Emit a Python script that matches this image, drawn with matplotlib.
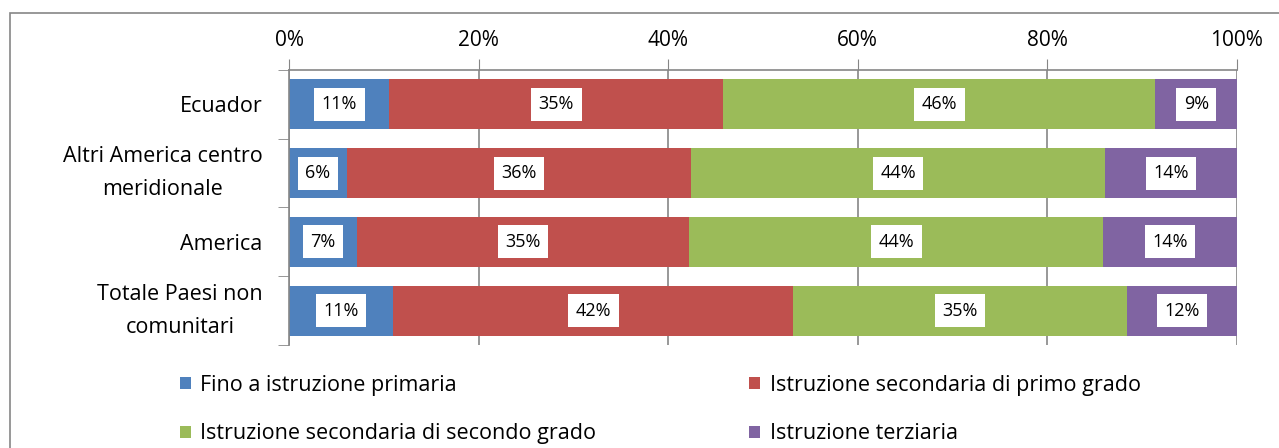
import matplotlib
matplotlib.use("Agg")
import matplotlib.pyplot as plt
from matplotlib.patches import Rectangle, Patch
import numpy as np

plt.rcParams['font.family'] = ['Open Sans', 'DejaVu Sans']

categories = ["Ecuador", "Altri America centro\nmeridionale", "America",
              "Totale Paesi non\ncomunitari"]
series_names = ["Fino a istruzione primaria",
                "Istruzione secondaria di primo grado",
                "Istruzione secondaria di secondo grado",
                "Istruzione terziaria"]
primaria = [10.6, 6.1, 7.2, 11.0]
sec_primo = [35.2, 36.3, 35.0, 42.2]
sec_secondo = [45.6, 43.7, 43.7, 35.2]
terziaria = [8.6, 13.9, 14.1, 11.6]
colors = ["#4F81BD", "#C0504D", "#9BBB59", "#8064A2"]
xticks = [0, 20, 40, 60, 80, 100]
xtick_labels = ["0%", "20%", "40%", "60%", "80%", "100%"]

W, H = 1279, 448
fig = plt.figure(figsize=(W / 100, H / 100), dpi=100)
# outer chart frame
fig.patches.append(Rectangle((10 / W, -0.05), 1.1, (H - 13) / H + 0.05,
                             transform=fig.transFigure, fill=False,
                             edgecolor="#868686", linewidth=1.2))

ax = fig.add_axes([289 / W, 1 - 345 / H, (1237 - 289) / W, (345 - 70) / H])
y = np.arange(len(categories))
series = [primaria, sec_primo, sec_secondo, terziaria]
left = np.zeros(len(categories))
for vals, name, col in zip(series, series_names, colors):
    vals = np.array(vals)
    ax.barh(y, vals, left=left, height=0.73, color=col, label=name, zorder=2)
    for yi, (l, v) in enumerate(zip(left, vals)):
        ax.text(l + v / 2, yi, f"{int(round(v))}%", ha="center", va="center",
                fontsize=13, color="black", zorder=3,
                bbox=dict(boxstyle="square,pad=0.42", facecolor="white",
                          edgecolor="none"))
    left += vals

ax.set_xlim(0, 100)
ax.set_ylim(3.5, -0.5)
ax.xaxis.tick_top()
ax.set_xticks(xticks)
ax.set_xticklabels(xtick_labels, fontsize=15)
ax.tick_params(axis="x", direction="out", length=8, color="#868686",
               pad=6, labelcolor="black")
ax.grid(axis="x", color="#868686", linewidth=1.2, zorder=0)
ax.set_axisbelow(True)

ax.set_yticks(y)
ax.set_yticklabels(categories, fontsize=15.5)
for t in ax.get_yticklabels():
    t.set_multialignment("center")
    t.set_linespacing(1.75)
    if "\n" in t.get_text():
        t.set_verticalalignment("center")
ax.set_yticks(np.arange(-0.5, 4.0, 1.0), minor=True)
ax.tick_params(axis="y", which="major", length=0, pad=19)
ax.tick_params(axis="y", which="minor", length=8, color="#868686",
               direction="out")

for s in ["bottom", "right"]:
    ax.spines[s].set_visible(False)
for s in ["top", "left"]:
    ax.spines[s].set_color("#868686")
    ax.spines[s].set_linewidth(1.2)

handles = [Patch(facecolor=c, edgecolor="none") for c in colors]
order = [0, 2, 1, 3]
leg = fig.legend([handles[i] for i in order], [series_names[i] for i in order],
                 ncol=2, loc="upper left",
                 bbox_to_anchor=(180 / W, 1 - 375 / H), frameon=False,
                 fontsize=15.5, handlelength=0.5, handleheight=0.5,
                 handletextpad=0.45, columnspacing=7.1, labelspacing=1.27,
                 borderaxespad=0, borderpad=0)

fig.savefig("out.png", dpi=100)
